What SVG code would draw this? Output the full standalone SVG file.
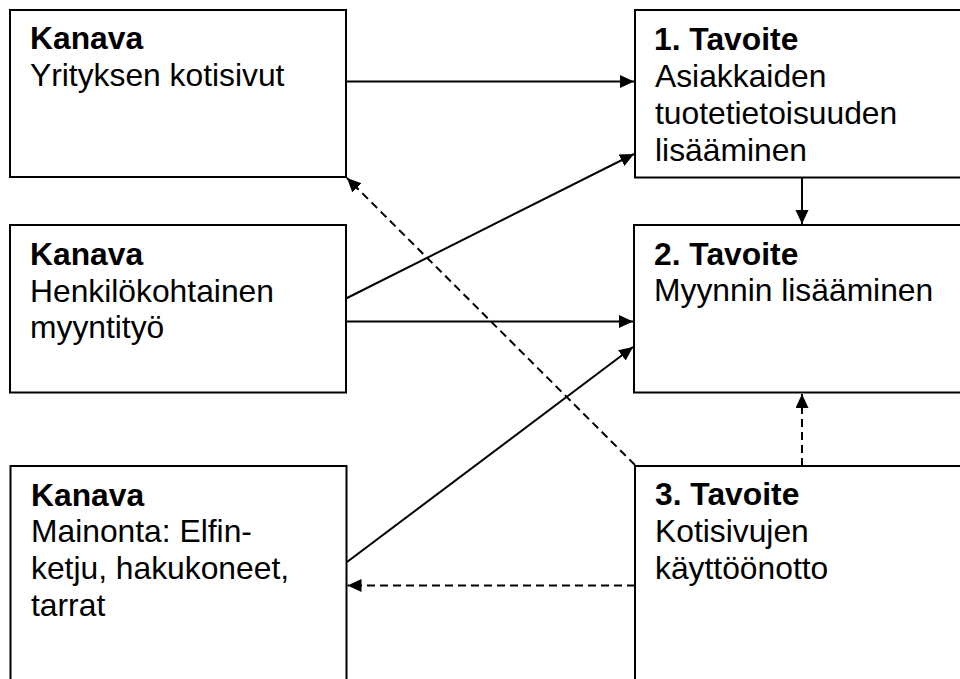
<svg xmlns="http://www.w3.org/2000/svg" width="960" height="679" viewBox="0 0 960 679">
  <style>
    .box { fill: #ffffff; stroke: #000000; stroke-width: 2; }
    .lbl { font-family: "Liberation Sans", Arial, sans-serif; font-size: 31.8px; fill: #000000; }
    .hd { font-weight: bold; }
    .edge { fill: none; stroke: #000000; stroke-width: 2; }
    .dash { stroke-dasharray: 8 5; }
  </style>
  <defs>
    <marker id="arrow" markerUnits="userSpaceOnUse" markerWidth="15" markerHeight="14" refX="14" refY="6.5" orient="auto">
      <path d="M0,0 L14,6.5 L0,13 Z" fill="#000000" stroke="none"/>
    </marker>
  </defs>

  <rect width="960" height="679" fill="#ffffff"/>

  <!-- channel nodes (left column) -->
  <g id="kanava-kotisivut">
    <rect class="box" x="10" y="10" width="336" height="167"/>
    <text class="lbl hd" x="30" y="49">Kanava</text>
    <text class="lbl" x="30" y="85.5">Yrityksen kotisivut</text>
  </g>
  <g id="kanava-myyntityo">
    <rect class="box" x="10" y="225" width="336" height="167.5"/>
    <text class="lbl hd" x="30" y="265">Kanava</text>
    <text class="lbl" x="30" y="301.5">Henkilökohtainen</text>
    <text class="lbl" x="30" y="338">myyntityö</text>
  </g>
  <g id="kanava-mainonta">
    <rect class="box" x="10.5" y="466" width="336" height="230"/>
    <text class="lbl hd" x="31" y="505.5">Kanava</text>
    <text class="lbl" x="31" y="542">Mainonta: Elfin-</text>
    <text class="lbl" x="31" y="578.5">ketju, hakukoneet,</text>
    <text class="lbl" x="31" y="615.5">tarrat</text>
  </g>

  <!-- goal nodes (right column) -->
  <g id="tavoite-1">
    <rect class="box" x="635" y="10" width="340" height="167.5"/>
    <text class="lbl hd" x="654" y="50">1. Tavoite</text>
    <text class="lbl" x="655" y="87">Asiakkaiden</text>
    <text class="lbl" x="655" y="124">tuotetietoisuuden</text>
    <text class="lbl" x="655" y="160.5">lisääminen</text>
  </g>
  <g id="tavoite-2">
    <rect class="box" x="634" y="225" width="340" height="167.5"/>
    <text class="lbl hd" x="654" y="265">2. Tavoite</text>
    <text class="lbl" x="654" y="301">Myynnin lisääminen</text>
  </g>
  <g id="tavoite-3">
    <rect class="box" x="635" y="466" width="340" height="230"/>
    <text class="lbl hd" x="655" y="505">3. Tavoite</text>
    <text class="lbl" x="655" y="542">Kotisivujen</text>
    <text class="lbl" x="655" y="578.5">käyttöönotto</text>
  </g>

  <!-- connectors -->
  <g id="connectors">
    <line class="edge" x1="346" y1="81.5" x2="634" y2="81.5" marker-end="url(#arrow)"/>
    <line class="edge" x1="802" y1="177.5" x2="802" y2="224" marker-end="url(#arrow)"/>
    <line class="edge" x1="346" y1="298.5" x2="634" y2="154" marker-end="url(#arrow)"/>
    <line class="edge" x1="346" y1="321.5" x2="633" y2="321.5" marker-end="url(#arrow)"/>
    <line class="edge" x1="347" y1="562" x2="633" y2="347" marker-end="url(#arrow)"/>
    <line class="edge dash" x1="635" y1="465" x2="347" y2="178" marker-end="url(#arrow)"/>
    <line class="edge dash" x1="802" y1="466" x2="802" y2="394" marker-end="url(#arrow)"/>
    <line class="edge dash" x1="635" y1="585.5" x2="347.5" y2="585.5" marker-end="url(#arrow)"/>
  </g>
</svg>
